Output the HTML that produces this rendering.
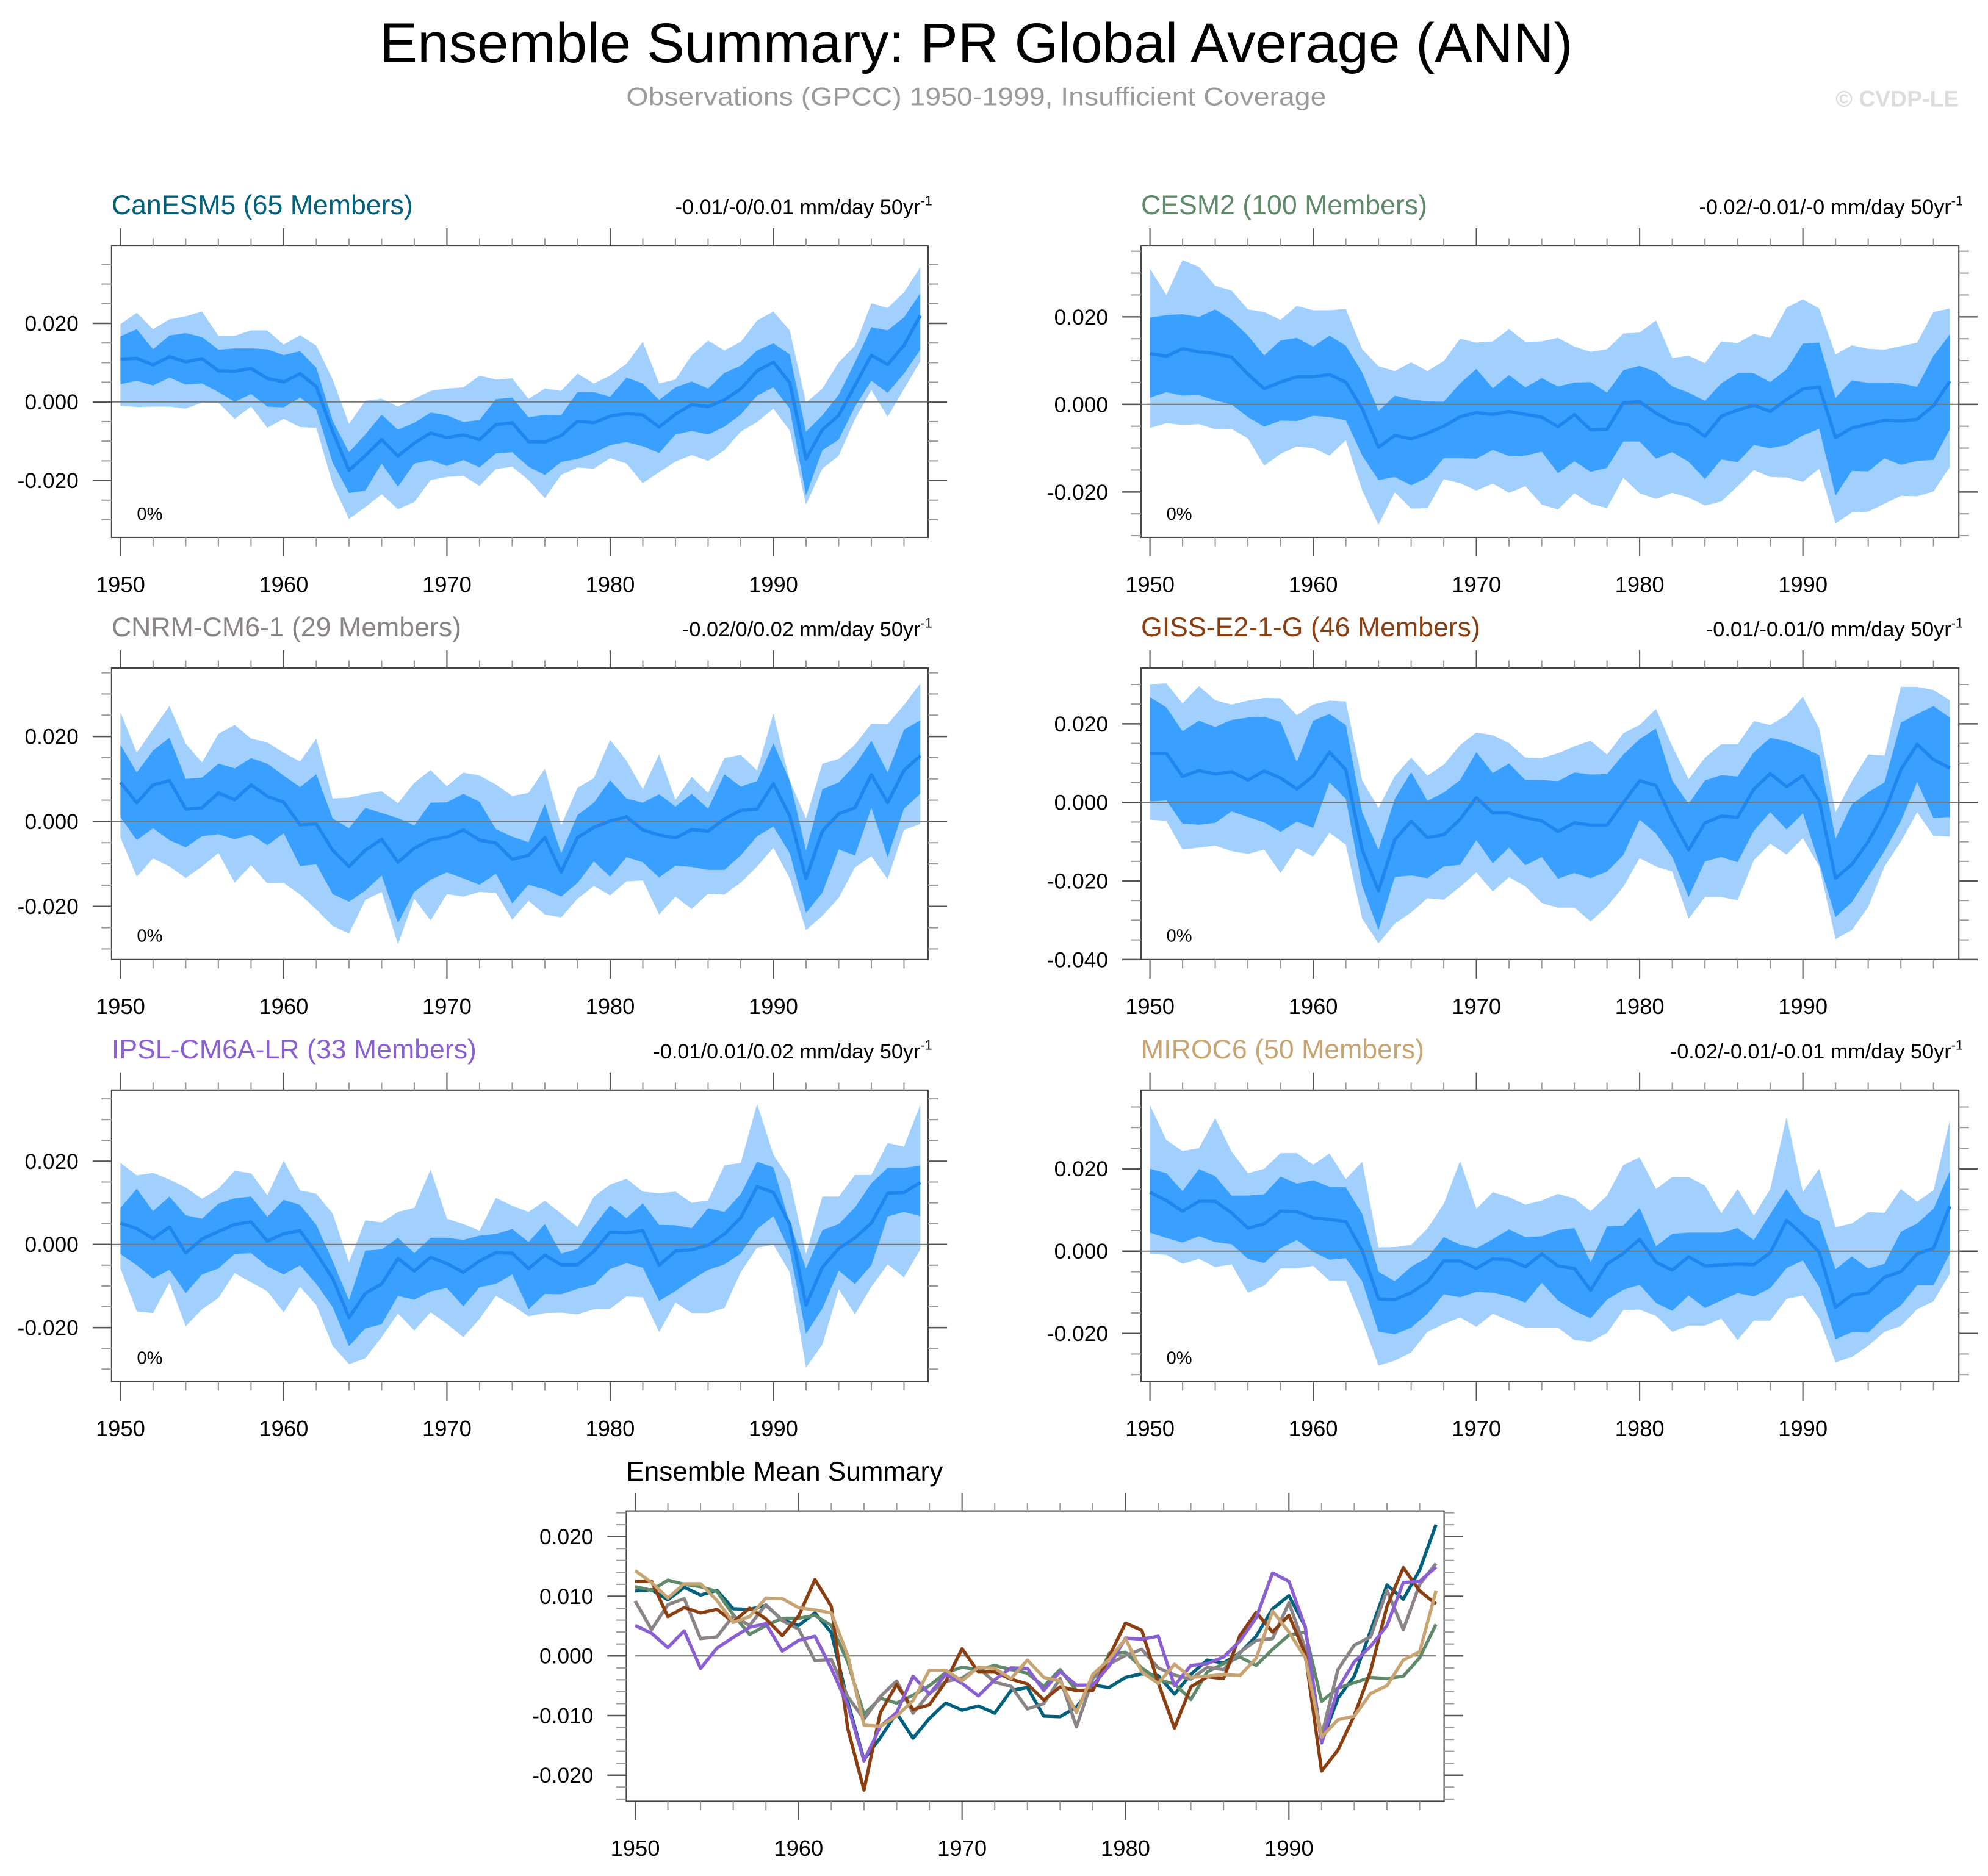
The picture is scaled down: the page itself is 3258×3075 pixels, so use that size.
<!DOCTYPE html>
<html><head><meta charset="utf-8"><title>Ensemble Summary: PR Global Average (ANN)</title>
<style>html,body{margin:0;padding:0;background:#fff}svg{display:block}text{font-family:"Liberation Sans",Arial,sans-serif}</style>
</head><body>
<svg id="chart" xmlns="http://www.w3.org/2000/svg" width="3258" height="3075" viewBox="0 0 1568 1480" preserveAspectRatio="none">
<text x="770" y="49" font-size="44" text-anchor="middle" textLength="941" lengthAdjust="spacingAndGlyphs" fill="#000">Ensemble Summary: PR Global Average (ANN)</text>
<text x="770" y="83" font-size="20" text-anchor="middle" textLength="552" lengthAdjust="spacingAndGlyphs" fill="#9a9a9a">Observations (GPCC) 1950-1999, Insufficient Coverage</text>
<text x="1545" y="84" font-size="18" font-weight="bold" text-anchor="end" fill="#dcdcdc">© CVDP-LE</text>
<g id="panels"></g>
</svg>
<script>
const years=[1950,1951,1952,1953,1954,1955,1956,1957,1958,1959,1960,1961,1962,1963,1964,1965,1966,1967,1968,1969,1970,1971,1972,1973,1974,1975,1976,1977,1978,1979,1980,1981,1982,1983,1984,1985,1986,1987,1988,1989,1990,1991,1992,1993,1994,1995,1996,1997,1998,1999];
const xTickYears=[1950,1960,1970,1980,1990];
const xTickLabels=["1950","1960","1970","1980","1990"];
const yTickValues=[20,0,-20];
const yTickLabels=["0.020","0.000","-0.020"];
const gissTickValues=[20,0,-20,-40];
const gissTickLabels=["0.020","0.000","-0.020","-0.040"];
const summaryTickValues=[20,10,0,-10,-20];
const summaryTickLabels=["0.020","0.010","0.000","-0.010","-0.020"];
const modelNames=["CanESM5 (65 Members)","CESM2 (100 Members)","CNRM-CM6-1 (29 Members)","GISS-E2-1-G (46 Members)","IPSL-CM6A-LR (33 Members)","MIROC6 (50 Members)"];
const trendLabels=["-0.01/-0/0.01 mm/day 50yr","-0.02/-0.01/-0 mm/day 50yr","-0.02/0/0.02 mm/day 50yr","-0.01/-0.01/0 mm/day 50yr","-0.01/0.01/0.02 mm/day 50yr","-0.02/-0.01/-0.01 mm/day 50yr"];
const coverageLabels=["0%","0%","0%","0%","0%","0%"];
// values in units of 0.001 mm/day
const canMean=[10.9,11.1,9.4,11.5,10.2,11,7.9,7.8,8.5,6,5.1,7.2,3.9,-7.6,-17.4,-13.7,-9.6,-13.8,-10.5,-7.9,-9.1,-8.4,-9.6,-5.8,-5.3,-10.1,-10.2,-8.6,-4.9,-5.3,-3.6,-3,-3.3,-6.4,-3.1,-0.7,-1.2,0.5,3.3,7.9,10.1,4.9,-14.5,-7.1,-3.4,4.2,11.9,9.5,14.4,22];
const canInHi=[16.7,18.5,13.4,16.9,17.5,16.5,13.3,13.6,13.6,13.4,11.9,12.9,8.7,-4.8,-12.8,-8.3,-3.2,-7.1,-5.3,-2.7,-3.4,-5.1,-4.6,0.7,1.1,-3.9,-3.3,-3.4,2.5,2.5,1.3,6.2,4.7,0.5,3.7,5.2,3.4,7.4,9.2,13.1,14.9,12.1,-7.6,-3.4,1.8,10.1,19,18.2,21.5,27.7];
const canInLo=[4.5,5.4,4.2,6.2,4.4,4.7,2.5,0,2,-1.2,-1.4,1.1,-2,-15.5,-23.2,-22.6,-15.7,-21.6,-15.7,-14.8,-16.3,-14.8,-16.7,-13.1,-12.8,-16.5,-18.6,-15.3,-14.5,-13,-11,-10.2,-11.3,-13,-8.3,-7.4,-8.3,-6.3,-3.2,1.6,3.7,-1.7,-23.8,-12.3,-9.6,-1.2,5.4,2.3,7.2,13.3];
const canMax=[19.8,22.7,18.5,21,21.8,23,16.8,16.8,18.2,18.2,14.6,17,14.3,5.7,-5.6,0.3,0.8,-1.2,0.8,2.8,3.4,3.7,6.7,5.7,6,0.8,3.4,2.8,7.2,4.7,6.7,9.7,15.3,4.7,5.7,11.9,15.6,13.1,15.3,20.7,23,18.2,-0.2,3.4,10.1,14.3,25.1,23.9,27.9,34.3];
const canMin=[-1,-1.3,-1.2,-1.2,-1.7,-0.2,-0.2,-4.3,-1.2,-6.6,-4.3,-6.4,-6.6,-20.9,-29.8,-26.8,-23.5,-27.3,-25.5,-19.9,-19.1,-18.8,-21.4,-17.1,-16.5,-19.9,-24.5,-18.6,-16.7,-17,-14.3,-15.7,-20.7,-17.9,-15.2,-13.5,-15,-12.3,-7.6,-5.1,-1.7,-7.3,-26.1,-17,-13.7,-4.4,3,-3.8,3.3,10.3];
const cesMean=[11.6,11,12.7,12,11.6,10.8,6.9,3.6,5.1,6.3,6.3,6.8,5.1,-1,-9.8,-7.1,-7.9,-6.6,-5,-2.8,-1.9,-2.3,-1.6,-2.3,-2.9,-5.1,-2.3,-5.8,-5.7,0.4,0.6,-2,-4,-4.7,-7.3,-2.7,-1.3,-0.2,-1.6,1.1,3.5,4,-7.6,-5.4,-4.5,-3.6,-3.8,-3.4,-0.3,5.3];
const cesInHi=[19.8,20.4,20.6,20,21.7,19.3,15.7,11.2,14.6,15.2,13.2,15.7,13.4,7.3,-1.5,2,1.1,0.7,0.6,4.8,8.1,3.7,6.7,3.9,6,4.1,5,5.1,2.7,7.8,8.8,7.4,4.1,2.7,0.8,4.8,7.1,7.1,5.1,8,13.9,14.1,1.5,5.5,4.9,4.9,4.8,4,11.1,16];
const cesInLo=[1.5,2.8,2,2.1,0.9,0,-2.9,-5.1,-3.7,-3.8,-2.6,-2.9,-3.6,-11.7,-17.3,-16.6,-18.5,-16.7,-12.3,-12.3,-12.4,-10.4,-11.8,-11.7,-10.8,-15.7,-13,-15.4,-14.5,-8.5,-8.5,-12.4,-10.9,-13.1,-17.1,-12.6,-13.2,-9.3,-10,-9.3,-7.1,-5.6,-20.8,-15.2,-15.3,-12.3,-13.8,-12.9,-12.7,-5.7];
const cesMax=[31,25,33,31.4,27.1,26,21.7,21.1,19.3,22.5,21.5,21.5,21.8,12.6,8.7,7.6,9.6,7.6,9.9,15,14.1,14.4,17.2,14.3,14.4,15.2,13.2,12,12.6,16.2,16.4,19.2,10.6,11.1,9.4,14.4,14,16.1,15.2,22.1,24,21.9,11.4,13.5,12.7,12.5,13.3,14.1,21.1,21.9];
const cesMin=[-5.4,-4.3,-4.7,-4.5,-5.7,-5.6,-7.8,-14,-11.3,-9.6,-10,-11.7,-8.2,-19.6,-27.5,-20.1,-23.8,-23.7,-17.1,-18,-19.7,-18.1,-20.2,-18.7,-22.9,-24,-20.3,-22.7,-23.7,-16.8,-20.3,-21.6,-20.2,-21.3,-23.1,-22.2,-18.7,-15,-16.6,-16.7,-17.7,-14.7,-27.2,-24.7,-24.5,-22.7,-20.9,-21,-19.9,-14.3];
const cnrMean=[9.2,4.4,8.6,9.6,2.9,3.2,6.7,5.1,8.6,5.9,4.5,-0.8,-0.6,-6.8,-10.6,-6.8,-4.2,-9.6,-6.3,-4.3,-3.7,-2,-4.4,-5.1,-8.9,-8,-3.8,-11.9,-3.8,-1.4,0.1,1.1,-2,-3.2,-3.9,-1.9,-2.3,0.6,2.6,2.9,8.9,1.3,-13.4,-2.3,1.8,3.2,11,4.4,12,15.5];
const cnrInHi=[18.1,11.5,16.7,19.7,10,10.3,13.6,12.5,14.9,13.6,10.8,8.1,11.1,0.7,-1.6,3.2,2,0.8,-0.9,4.4,4.5,6.5,4.6,-1.8,-3.6,-4.9,4.1,-7.5,1.5,4.4,9.7,5.4,4.4,6.4,3.5,6.5,3,11.1,8.2,9.5,18.4,9.6,-6.9,7.6,9.2,13.3,19,11.5,21.6,23.8];
const cnrInLo=[1,-4.4,-1.6,-4.4,-6.1,-3.5,-3,-4.2,-3.1,-5.6,-2.8,-10.5,-10.1,-17.1,-18.9,-16.3,-12.7,-23.9,-16.6,-13.7,-12,-13.4,-14.9,-12.3,-19.3,-14.9,-16,-17.7,-14.5,-9.4,-13,-8.4,-9.6,-13.2,-10.4,-10.7,-11.4,-11.4,-8,-3.5,-1.2,-7.5,-21.5,-16.8,-6.6,-8,3.2,-8.5,3,6.5];
const cnrMax=[25.7,16.2,21.7,27.2,18.3,13.9,20.6,22.7,19.5,18.6,16.2,14.1,19.5,5.4,5.6,6.5,7.1,4.3,9.1,12.1,8.3,11.5,10.8,8.7,6,6.7,12.4,-0.9,7.9,10.2,19.2,14.3,7.6,15.8,5.1,10.5,6.7,14.9,15.7,12,25.4,9.6,0.7,13.6,14.7,18.1,23,22.9,27.4,32.5];
const cnrMin=[-3.8,-13,-8.7,-10.6,-13.3,-10.6,-7.4,-14.4,-10.3,-14.6,-14.5,-17.2,-20.7,-24.6,-26.4,-18.5,-16.6,-28.9,-18.2,-23.3,-17.1,-17.7,-16.6,-16.8,-23.1,-18.7,-21.9,-22.6,-18.2,-15.2,-17.4,-14.1,-13.9,-21.9,-17.7,-20.6,-17,-17.2,-14.4,-10.6,-6.2,-13.4,-25.6,-22.2,-18,-10.8,-8.2,-13.6,-2,-0.6];
const gisMean=[12.5,12.5,6.6,8.1,7.2,7.8,5.7,8,6.2,3.4,6.7,12.8,8.3,-12.1,-22.5,-9.5,-4.8,-9,-8.2,-4.3,1.2,-2.7,-2.7,-3.9,-4.7,-7.4,-5.2,-5.8,-5.8,-0.1,5.5,4.3,-4.5,-12.1,-5.2,-3.5,-3.8,3.4,7.3,4,6.8,0.4,-19.3,-15.8,-10,-2.5,8.3,14.8,10.9,8.7];
const gisInHi=[26.8,24.2,18.1,20.8,19.2,21,21.6,21.8,20.5,10.3,20.8,22.5,19.7,-2.5,-12.1,0.9,7.7,0.4,2.5,5.7,12.8,7.5,9.9,5.7,5.7,5.4,7.6,7.1,7.2,12.2,16.1,18.8,5.6,-0.4,5.6,6.9,6.6,12.8,16.4,15.6,14,12,-9.2,-0.5,2.6,5.1,20.3,22.5,24.5,21.6];
const gisInLo=[0.2,0.5,-5.4,-5.7,-5.2,-2.3,-3.7,-5.1,-7.5,-4.9,-6.5,5.1,0.9,-21.3,-32.5,-19,-18.6,-19.3,-16.3,-15.9,-9.6,-15.5,-11.5,-16,-13.9,-19.4,-18,-19.3,-17.6,-13.4,-4.4,-7.9,-13.9,-24.1,-15,-13.9,-15.2,-7.2,-2.5,-6.9,-2.8,-15.5,-29.2,-25.4,-18.9,-12.4,-4.8,5.2,-4,-3.7];
const gisMax=[30.1,30.3,25.2,29.6,26,24.9,25.9,26.6,26.5,22.2,24.9,25.9,25.7,5.6,-1.4,6.7,11.4,6.8,9.6,14.6,17.8,17.1,15.1,11.4,11.3,12.5,14.3,15.7,12.2,17.6,19.7,23.8,14.3,5.9,11.4,14.8,14.8,20.7,19.7,22.2,26.9,18.8,-2.5,5.4,12.2,11.9,29.4,29.4,28.6,26];
const gisMin=[-4.4,-4.7,-12,-11.5,-11,-12.4,-13.1,-12,-18,-11.6,-13.8,-7.7,-10.8,-29.6,-35.9,-30.9,-28,-24.4,-24.8,-21.5,-17.8,-22.7,-19,-21.4,-25.6,-26.8,-26.8,-30.3,-26.5,-21.5,-14.2,-16.3,-17.6,-29.6,-24.1,-24.1,-24.9,-14.7,-10.5,-13.3,-9.1,-16.3,-34.8,-32.5,-26.6,-16.3,-10,-2.5,-8.5,-8.7];
const ipsMean=[5.1,3.8,1.4,4.2,-2.1,1.3,3.1,4.8,5.4,0.8,2.6,3.3,-2.1,-8.2,-17.6,-11.8,-9.5,-3.4,-6.4,-3.1,-4.6,-6.7,-4,-2,-2.1,-5.8,-2.6,-4.9,-4.9,-1.7,3,2.8,3.3,-5,-1.6,-1.3,-0.2,2.5,6.4,13.9,12.5,4.8,-14.6,-5.5,-1,1.6,5.1,12.3,12.5,14.9];
const ipsInHi=[8.8,13.4,8,11.5,7,6.2,9.8,11.1,11.5,6.6,10.7,9.5,4.7,-4,-13.4,-1.5,-1.2,1.6,-2.1,1.6,1.6,1.1,2.1,2.5,3.7,0.6,4.9,-2.2,-1.1,4.4,9.4,6.3,9.9,4.7,4.6,3.9,8.7,7.8,12.1,19.9,18.5,5.1,-5.8,3.4,4.9,8.9,14.7,18.4,18.4,18.9];
const ipsInLo=[-2.3,-5,-8.2,-6.1,-11.7,-7.2,-5.8,-2.3,-2.1,-5.3,-7.2,-5,-9.5,-15.1,-24.5,-20.2,-19.2,-12.4,-13.3,-11.3,-10.5,-14.9,-10.3,-9.5,-7.2,-15.6,-11.9,-12,-10.7,-9.7,-5.9,-4.5,-5.6,-13.6,-11.2,-8.5,-6.1,-4.8,-2.2,3.7,6.8,-1.6,-21.5,-15.4,-6.3,-9.5,-5,6.7,7.8,6.8];
const ipsMax=[19.6,16.6,17.2,15.6,13.7,11,13.4,17.7,17.1,11.8,20.1,13,12.2,7.4,-4.3,5.8,5.3,7.8,8.8,18,6.2,4.9,3.3,11.2,9.3,7.8,10.5,7.4,4.2,11.5,14.4,15.8,12.7,12.3,12.7,10,10.6,19,19.6,33.8,21.6,15.6,-2.3,11.5,11.5,16.7,16.7,24.4,23.5,33.6];
const ipsMin=[-5.8,-16.1,-16.5,-9.2,-19.7,-15.6,-12.9,-6.9,-9.1,-11.3,-16.3,-10.2,-14.6,-24.4,-28.8,-27.4,-22.3,-16.6,-20.7,-16.3,-19.1,-22.3,-17.9,-12.4,-14.6,-17.3,-16.5,-16.4,-16.8,-15.6,-15.5,-12.5,-12.7,-21.1,-14,-16.5,-16.5,-15.3,-6.7,-0.8,-0.1,-6.7,-29.6,-24.1,-10.8,-16.8,-10.2,-4.8,-7.9,-1.2];
const mirMean=[14.3,12.3,9.7,12.1,12.1,9.3,5.6,6.6,9.7,9.6,8.1,7.7,7.2,0.1,-11.6,-11.8,-10.1,-7.5,-2.4,-2.4,-4.2,-1.9,-2.1,-3.8,-0.7,-3.6,-4.2,-9.5,-3.1,-0.6,2.9,-2.7,-4.6,-1.4,-3.6,-3.4,-3.1,-3.3,-0.4,7.5,4,-0.3,-13.6,-10.7,-10.1,-6.3,-5,-0.7,0.7,10.9];
const mirInHi=[20,18.9,14.6,19.9,18.2,13.5,13.5,13.8,18.1,16.4,17.2,15.6,15.5,9.1,-5,-7.3,-3.8,-1.6,3.4,1.6,0.7,2.9,5.3,3.4,3.6,5.1,5.6,-2.7,6,6.2,10.5,1.2,4.2,4.5,4.5,4.5,5.6,2.7,9,15.1,9.2,7.3,-4.4,-1.3,-4.2,-3.1,4.7,6.7,10.3,19.4];
const mirInLo=[4.5,3.2,2.1,3.6,2.2,1.7,-1.9,-2.9,0.7,2.7,-0.2,-2.1,-1.7,-7.3,-19.6,-20.2,-18.6,-15.2,-10.5,-11.2,-9.9,-10.1,-11,-12.5,-7.7,-12,-14.5,-16.3,-11.8,-9.4,-8.2,-12.6,-14.5,-10.8,-13.8,-12,-10.2,-11,-9,-4.1,-2.3,-8.7,-21.4,-19.7,-19.8,-16,-13.2,-8.3,-8.3,-0.6];
const mirMax=[35.5,27,24.3,25,32.3,24.2,18.9,20,23.8,23.8,21,23.7,17.5,21.7,0.9,1,1.5,5.5,11.5,21.9,10.3,14.3,13.1,11.3,12.3,13.9,12.8,9.7,13.5,20.9,22.8,15.1,18,18,15.9,9.2,15.1,8.6,15.1,32.6,14.4,20,5.8,6.7,9.5,9.3,15.1,12,14.8,31.8];
const mirMin=[-0.7,-0.9,-3.1,-1.9,-3.9,-3.2,-10.1,-8.4,-4.2,-4.2,-3.6,-7.2,-7.2,-16.9,-27.8,-26.6,-24.6,-19.6,-17.7,-16.1,-18.4,-15.2,-16.9,-18.6,-18.6,-18.6,-21.6,-22,-19.9,-14.3,-14.2,-15.7,-19.6,-18.1,-18.1,-16.4,-21.6,-16.9,-16.9,-11.6,-10.8,-16.4,-27,-25.7,-23,-19.6,-18.2,-14.1,-12.2,-5.5];

const NS="http://www.w3.org/2000/svg";
const root=document.getElementById("panels");
const modelColors=["#00617f","#5f8a6a","#8a8486","#8b3e0f","#8a5fd3","#c8a472"];
const slugs=["canesm5","cesm2","cnrm-cm6-1","giss-e2-1-g","ipsl-cm6a-lr","miroc6"];
const series=[[canMean,canInHi,canInLo,canMax,canMin],[cesMean,cesInHi,cesInLo,cesMax,cesMin],[cnrMean,cnrInHi,cnrInLo,cnrMax,cnrMin],[gisMean,gisInHi,gisInLo,gisMax,gisMin],[ipsMean,ipsInHi,ipsInLo,ipsMax,ipsMin],[mirMean,mirInHi,mirInLo,mirMax,mirMin]];
// layout (pixel geometry, not data)
const layout=[
 {x0:88,x1:732,y0:194,y1:424,xa:95,vt:39.7,vb:-34.5},
 {x0:900,x1:1545,y0:194,y1:424,xa:907,vt:36.2,vb:-30.4},
 {x0:88,x1:732,y0:527,y1:757,xa:95,vt:36.1,vb:-32.5},
 {x0:900,x1:1545,y0:527,y1:757,xa:907,vt:34.2,vb:-40},
 {x0:88,x1:732,y0:860,y1:1090,xa:95,vt:37.1,vb:-33},
 {x0:900,x1:1545,y0:860,y1:1090,xa:907,vt:39.1,vb:-31.7}];
const YSTEP=12.875;

function mk(tag,attrs,parent){const e=document.createElementNS(NS,tag);for(const k in attrs)e.setAttribute(k,attrs[k]);parent.appendChild(e);return e;}
function xFn(L,step){return y=>L.xa+(y-1950)*step;}
function yFn(L){return v=>L.y0+(L.vt-v)/(L.vt-L.vb)*(L.y1-L.y0);}

function drawAxes(g,L,sx,sy,tickVals,tickLabs,minorStep,yearMinorStep,labelFs){
  const lo=Math.ceil(L.vb/minorStep)*minorStep;
  for(let v=lo;v<=L.vt+1e-9;v+=minorStep){
    const y=sy(v);const major=tickVals.some(t=>Math.abs(t-v)<1e-6);
    const len=major?15:8;
    const t1=mk("line",{x1:L.x0-len,x2:L.x0,y1:y,y2:y,stroke:major?"#555":"#999","stroke-width":major?1.2:1},g);
    
    
    const t2=mk("line",{x1:L.x1,x2:L.x1+len,y1:y,y2:y,stroke:major?"#555":"#999","stroke-width":major?1.2:1},g);
    
    
  }
  tickVals.forEach((v,i)=>{
    const t=mk("text",{x:L.x0-26,y:sy(v)+6,"font-size":labelFs,"text-anchor":"end",fill:"#000"},g);
    t.textContent=tickLabs[i];
    
    
  });
  for(let yr=1950;yr<=1999;yr+=yearMinorStep){
    const x=sx(yr);const major=(yr%10===0);
    const a=mk("line",{x1:x,x2:x,y1:L.y0-(major?14:6),y2:L.y0,stroke:major?"#555":"#999","stroke-width":1},g);
    
    
    const b=mk("line",{x1:x,x2:x,y1:L.y1,y2:L.y1+(major?15:7),stroke:major?"#555":"#999","stroke-width":1},g);
    
    
  }
  xTickYears.forEach((yr,i)=>{
    const t=mk("text",{x:sx(yr),y:L.y1+43,"font-size":17.5,"text-anchor":"middle",fill:"#000"},g);
    t.textContent=xTickLabels[i];
    
    
  });
}

function polyPts(sx,sy,hi,lo){
  const p=[];years.forEach((yr,i)=>p.push(sx(yr).toFixed(2)+","+sy(hi[i]).toFixed(2)));
  for(let i=years.length-1;i>=0;i--)p.push(sx(years[i]).toFixed(2)+","+sy(lo[i]).toFixed(2));
  return p.join(" ");
}
function linePts(sx,sy,vals){return years.map((yr,i)=>sx(yr).toFixed(2)+","+sy(vals[i]).toFixed(2)).join(" ");}

series.forEach((s,k)=>{
  const L=layout[k];const sx=xFn(L,YSTEP);const sy=yFn(L);
  const g=mk("g",{},root);
  
  
  const ttl=mk("text",{x:L.x0,y:L.y0-25,"font-size":21.5,fill:modelColors[k]},g);
  ttl.textContent=modelNames[k];
  
  
  const tr=mk("text",{x:L.x1-6,y:L.y0-25,"font-size":16.5,"text-anchor":"end",fill:"#000"},g);
  tr.textContent=trendLabels[k];
  
  
  const sup=mk("text",{x:L.x1-6,y:L.y0-32,"font-size":10.5,fill:"#000"},g);
  sup.textContent="-1";
  
  
  const outer=mk("polygon",{points:polyPts(sx,sy,s[3],s[4]),fill:"#a1d0ff"},g);
  
  
  const inner=mk("polygon",{points:polyPts(sx,sy,s[1],s[2]),fill:"#3aa0ff"},g);
  
  
  const zero=mk("line",{x1:L.x0-14,x2:L.x1+15,y1:sy(0),y2:sy(0),stroke:"#777","stroke-width":1},g);
  
  
  const mean=mk("polyline",{points:linePts(sx,sy,s[0]),fill:"none",stroke:"#1e86ee","stroke-width":2.6,"stroke-linejoin":"round"},g);
  
  
  const box=mk("rect",{x:L.x0,y:L.y0,width:L.x1-L.x0,height:L.y1-L.y0,fill:"none",stroke:"#444","stroke-width":1},g);
  
  
  const tv=(k===3)?gissTickValues:yTickValues;const tl=(k===3)?gissTickLabels:yTickLabels;
  drawAxes(g,L,sx,sy,tv,tl,5,2,17);
  const cov=mk("text",{x:L.x0+20,y:L.y1-14,"font-size":14,fill:"#000"},g);
  cov.textContent=coverageLabels[k];
  
  
});

(function(){
  const L={x0:494,x1:1139,y0:1192,y1:1421,xa:501,vt:24.3,vb:-24.36};
  const sx=xFn(L,12.89);const sy=yFn(L);
  const g=mk("g",{},root);
  
  
  const ttl=mk("text",{x:L.x0,y:L.y0-24,"font-size":21.2,fill:"#000"},g);
  ttl.textContent="Ensemble Mean Summary";
  
  
  const zero=mk("line",{x1:sx(1950),x2:sx(1999),y1:sy(0),y2:sy(0),stroke:"#777","stroke-width":1},g);
  
  
  series.forEach((s,k)=>{
    const pl=mk("polyline",{points:linePts(sx,sy,s[0]),fill:"none",stroke:modelColors[k],"stroke-width":2.6,"stroke-linejoin":"round"},g);
    
    
  });
  const box=mk("rect",{x:L.x0,y:L.y0,width:L.x1-L.x0,height:L.y1-L.y0,fill:"none",stroke:"#444","stroke-width":1},g);
  
  
  drawAxes(g,L,sx,sy,summaryTickValues,summaryTickLabels,2,2,17);
})();
</script>
</body></html>
